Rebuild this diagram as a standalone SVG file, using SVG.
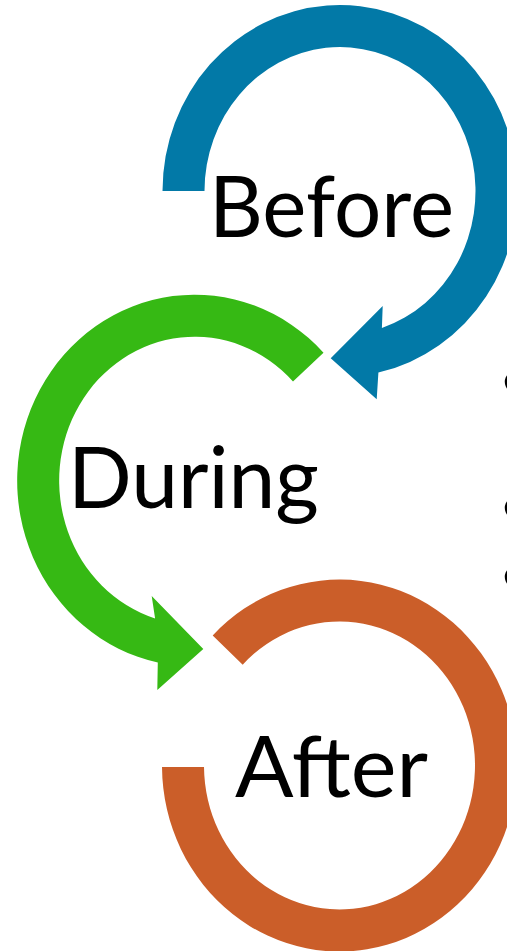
<svg xmlns="http://www.w3.org/2000/svg" width="507" height="951" viewBox="0 0 507 951">
  <style>
    .label { font-family: Lato, "Open Sans", "Liberation Sans", sans-serif; font-size: 85px; fill: #000000; }
    .bullet { font-family: Lato, "Liberation Sans", sans-serif; font-size: 60px; fill: #000000; }
    .blue { fill: #0279A7; }
    .green { fill: #36B914; }
    .orange { fill: #CB5E29; }
  </style>
  <rect width="507" height="951" fill="#FFFFFF"/>
  <g id="node-before">
    <path class="blue" d="M 162.5,191 A 177.5 186 0 1 1 378.4,372.6 L 376.7,399.3 L 330.7,358.3 L 382.7,306 L 381.9,328 A 135.5 144 0 1 0 204.5,191 Z"/>
    <text class="label" x="209" y="237" textLength="245" lengthAdjust="spacingAndGlyphs">Before</text>
  </g>
  <g id="node-during">
    <path class="green" d="M 323.5,352.7 A 177.5 186 0 1 0 157.8,662.6 L 157.3,690 L 203.3,649 L 151.7,596 L 155.1,618.4 A 135.5 144 0 1 1 293,381.6 Z"/>
    <text class="label" x="68" y="508" textLength="251" lengthAdjust="spacingAndGlyphs">During</text>
  </g>
  <g id="node-after">
    <path class="orange" d="M 212.7,635.4 A 177.5 186 0 1 1 162,767 L 204,767 A 135.5 144 0 1 0 242.7,664.7 Z"/>
    <text class="label" x="235" y="797" textLength="193" lengthAdjust="spacingAndGlyphs">After</text>
  </g>
  <g id="connectors"></g>
  <g id="bullets">
    <text class="bullet" x="498.5" y="400">•</text>
    <text class="bullet" x="498.5" y="526">•</text>
    <text class="bullet" x="498.5" y="595">•</text>
  </g>
</svg>
